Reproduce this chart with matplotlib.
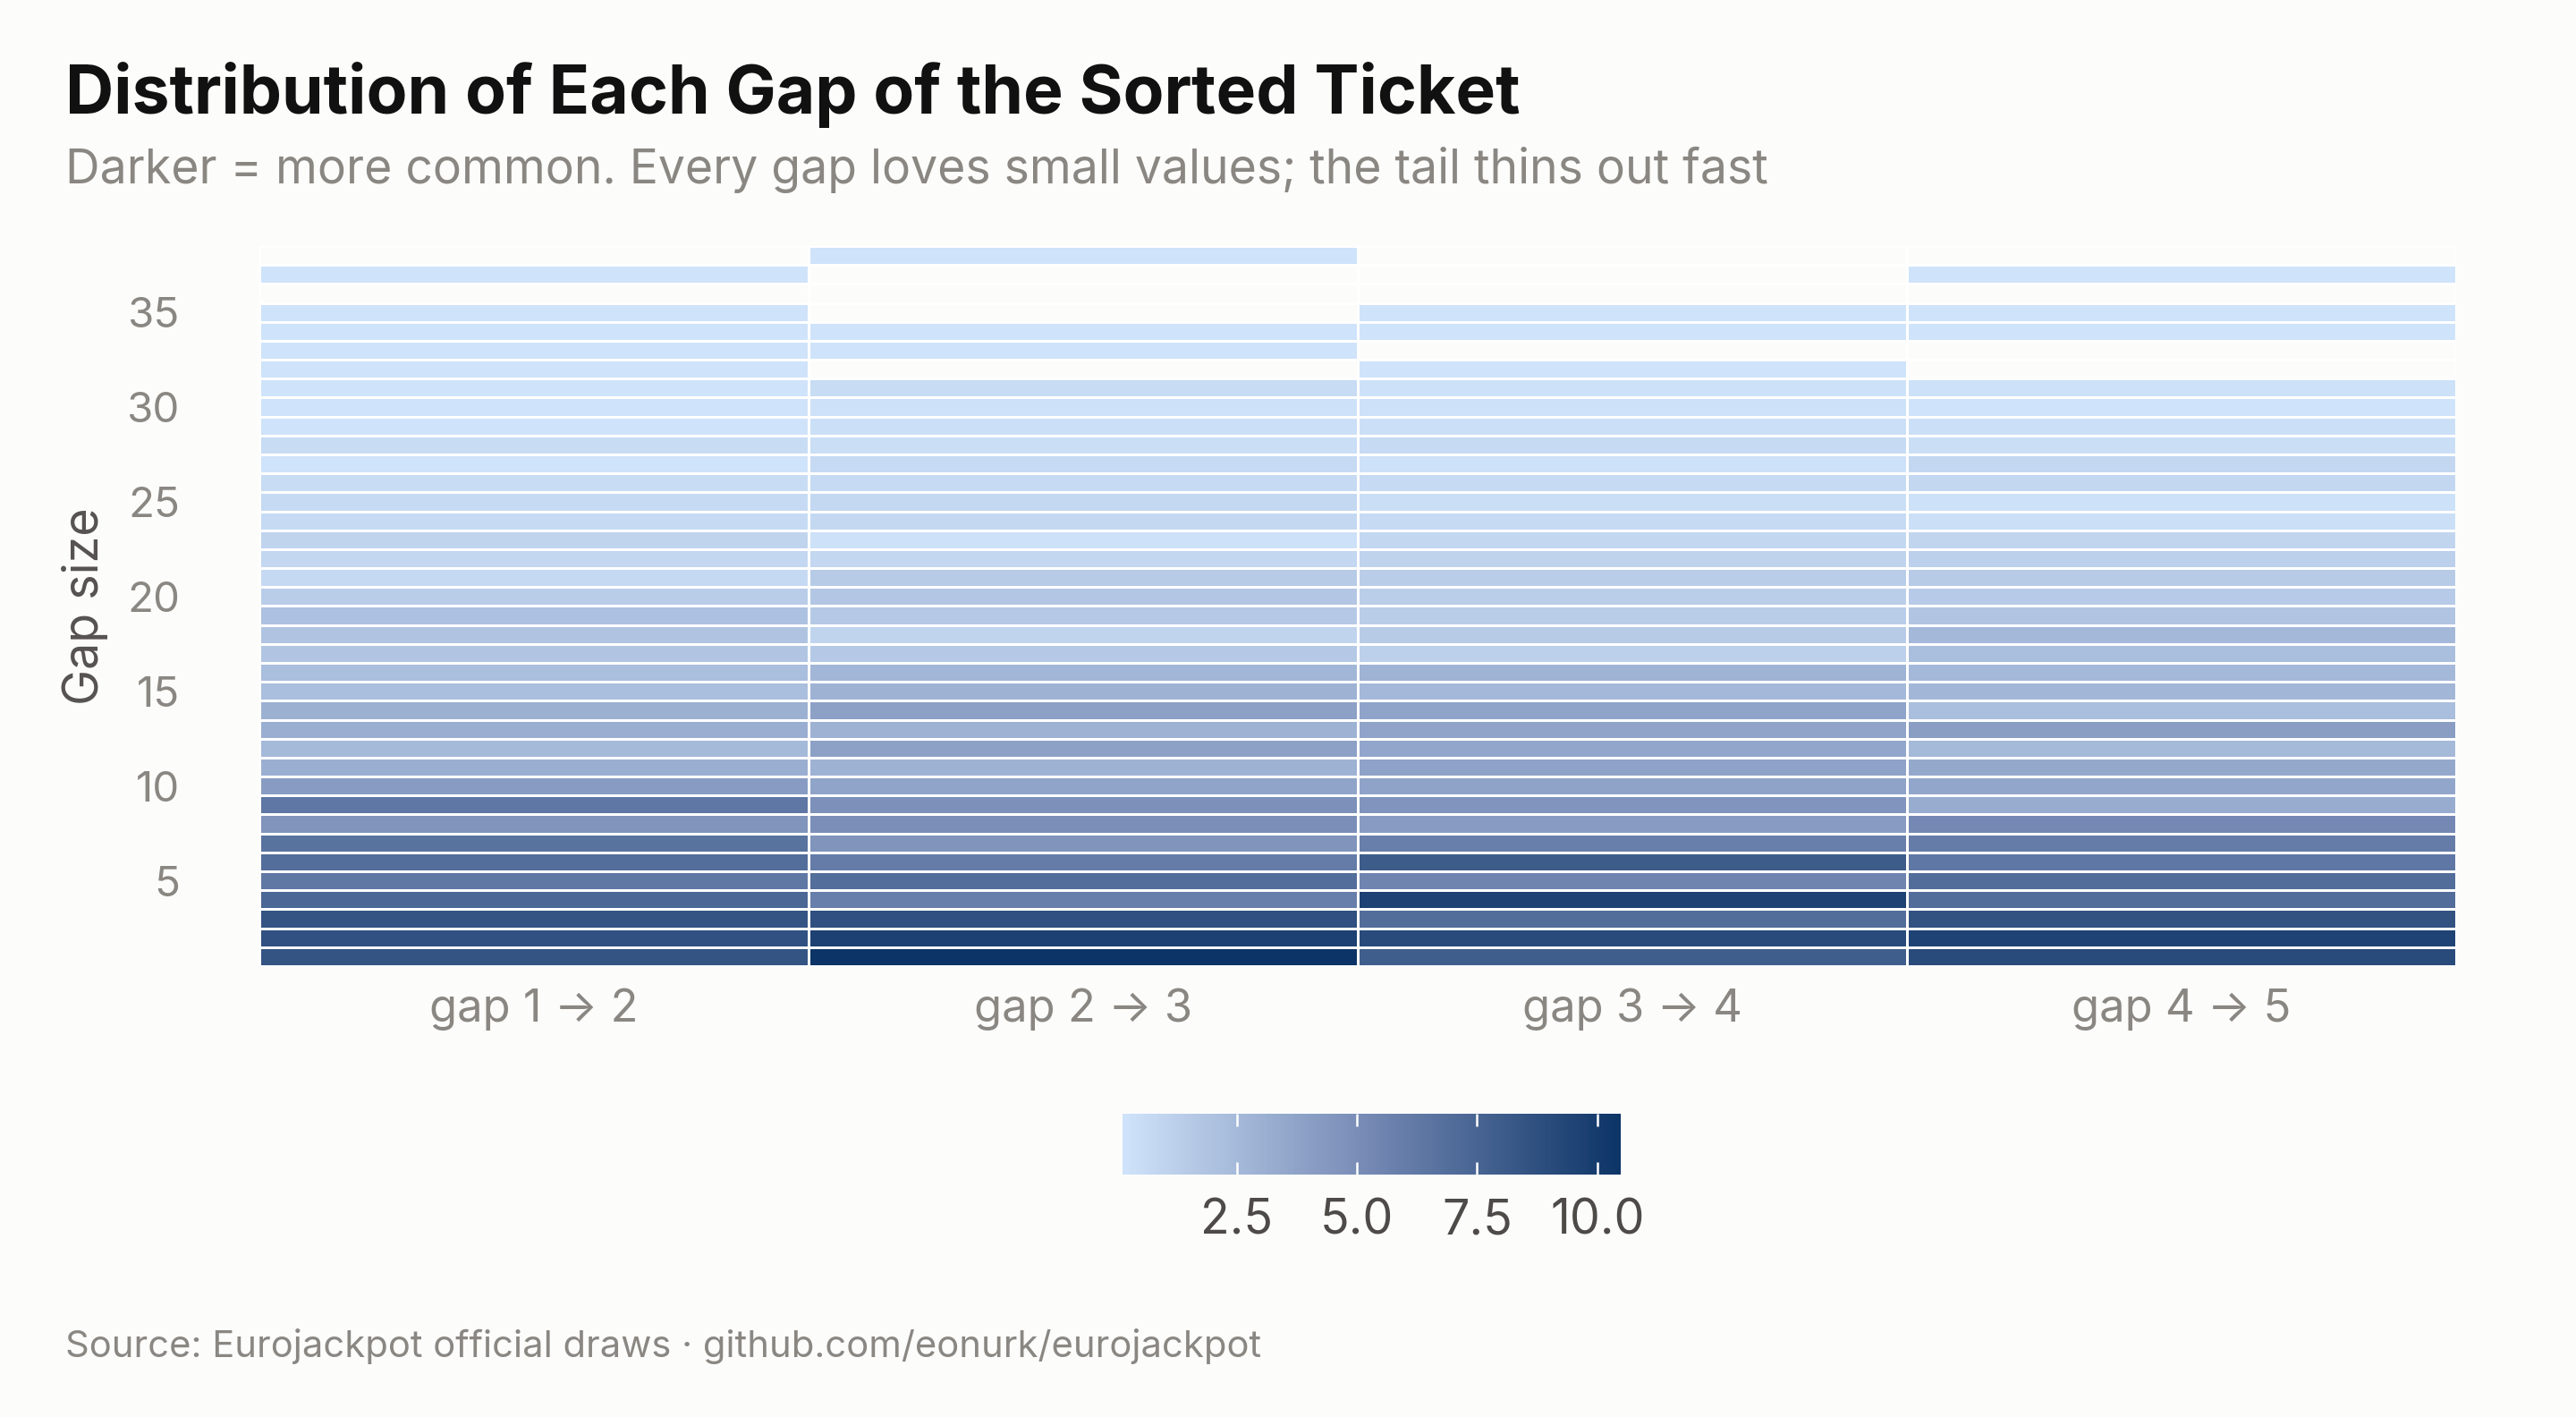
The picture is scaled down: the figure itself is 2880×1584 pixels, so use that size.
import numpy as np
import matplotlib
matplotlib.use("Agg")
import matplotlib.pyplot as plt
from matplotlib.colors import LinearSegmentedColormap

plt.rcParams['font.family'] = ['Inter', 'DejaVu Sans']

# share of draws (%) for each gap size, one list per adjacent pair of sorted balls
gap_sizes = list(range(1, 39))
pair_labels = ['gap 1 → 2', 'gap 2 → 3', 'gap 3 → 4', 'gap 4 → 5']
nan = np.nan

gap_12 = [8.47, 8.68, 8.47, 7.35, 6.29, 6.92, 6.60, 4.64, 6.34, 4.16,
          3.15, 2.51, 3.15, 3.04, 2.24, 2.24, 1.82, 1.92, 2.03, 1.39,
          0.70, 0.80, 1.00, 0.65, 0.65, 0.54, 0.11, 0.54, 0.11, 0.11,
          0.11, 0.11, 0.11, 0.11, 0.11, nan, 0.11, nan]
gap_23 = [10.49, 9.64, 8.73, 5.86, 6.92, 6.07, 4.64, 4.96, 4.85, 3.68,
          2.93, 3.90, 2.93, 3.90, 2.93, 2.67, 1.60, 1.00, 1.60, 1.70,
          1.50, 0.80, 0.27, 0.75, 0.75, 0.65, 0.65, 0.43, 0.38, 0.27,
          0.54, nan, 0.11, 0.11, nan, nan, nan, 0.11]
gap_34 = [7.93, 9.05, 6.97, 9.60, 5.54, 8.04, 5.86, 4.16, 4.58, 3.78,
          3.78, 3.57, 3.68, 3.68, 2.56, 2.83, 1.18, 1.50, 1.39, 1.34,
          1.39, 1.07, 0.81, 0.65, 0.43, 0.65, 0.27, 0.65, 0.38, 0.27,
          0.27, 0.11, nan, 0.11, 0.11, nan, nan, nan]
gap_45 = [9.05, 9.52, 8.62, 6.97, 6.97, 6.34, 6.02, 5.33, 3.25, 3.57,
          3.47, 2.51, 4.05, 2.24, 2.67, 2.56, 2.24, 2.56, 1.82, 1.45,
          1.50, 1.18, 0.91, 0.38, 0.27, 0.81, 0.81, 0.43, 0.38, 0.11,
          0.27, nan, nan, 0.11, 0.11, nan, 0.11, nan]

bg = '#fcfcfb'
cmap = LinearSegmentedColormap.from_list('blues', ['#cfe3fa', '#7488b3', '#0c3466'])

grid = np.ma.masked_invalid(np.array([gap_12, gap_23, gap_34, gap_45]).T)

fig = plt.figure(figsize=(16, 8.8), dpi=180, facecolor=bg)
ax = fig.add_axes([0.1007, 0.3182, 0.8528, 0.5082], facecolor=bg)

x_edges = np.arange(len(pair_labels) + 1) - 0.5
y_edges = np.arange(len(gap_sizes) + 1) + 0.5
mesh = ax.pcolormesh(x_edges, y_edges, grid, cmap=cmap,
                     edgecolors='white', linewidth=1.0)

ax.set_xlim(-0.5, len(pair_labels) - 0.5)
ax.set_ylim(0.5, 38.5)
ax.set_xticks(range(len(pair_labels)))
ax.set_xticklabels(pair_labels)
ax.set_yticks([5, 10, 15, 20, 25, 30, 35])
ax.tick_params(axis='x', length=0, labelsize=20.3, labelcolor='#8a8782', pad=10)
ax.tick_params(axis='y', length=0, labelsize=19, labelcolor='#8a8782', pad=35.5)
for s in ax.spines.values():
    s.set_visible(False)

ax.set_ylabel('Gap size', fontsize=21.5, color='#555250')
ax.yaxis.set_label_coords(-0.069, 0.5)

cax = fig.add_axes([0.4356, 0.1709, 0.1936, 0.0433])
cb = fig.colorbar(mesh, cax=cax, orientation='horizontal')
cb.outline.set_visible(False)
cb.set_ticks([2.5, 5.0, 7.5, 10.0])
cax.tick_params(which='major', direction='in', color='white', length=5.5, width=1,
                top=True, bottom=True, labelsize=21.5, labelcolor='#4d4a47', pad=10.5)
cax.minorticks_off()

fig.text(0.0254, 0.92, 'Distribution of Each Gap of the Sorted Ticket',
         fontsize=30, fontweight='bold', color='#111111', va='baseline')
fig.text(0.0254, 0.8706,
         'Darker = more common. Every gap loves small values; the tail thins out fast',
         fontsize=21.4, color='#8a8782', va='baseline')
fig.text(0.0254, 0.0423,
         'Source: Eurojackpot official draws · github.com/eonurk/eurojackpot',
         fontsize=16.7, color='#8a8782', va='baseline')

fig.savefig('out.png', dpi=180, facecolor=bg)
